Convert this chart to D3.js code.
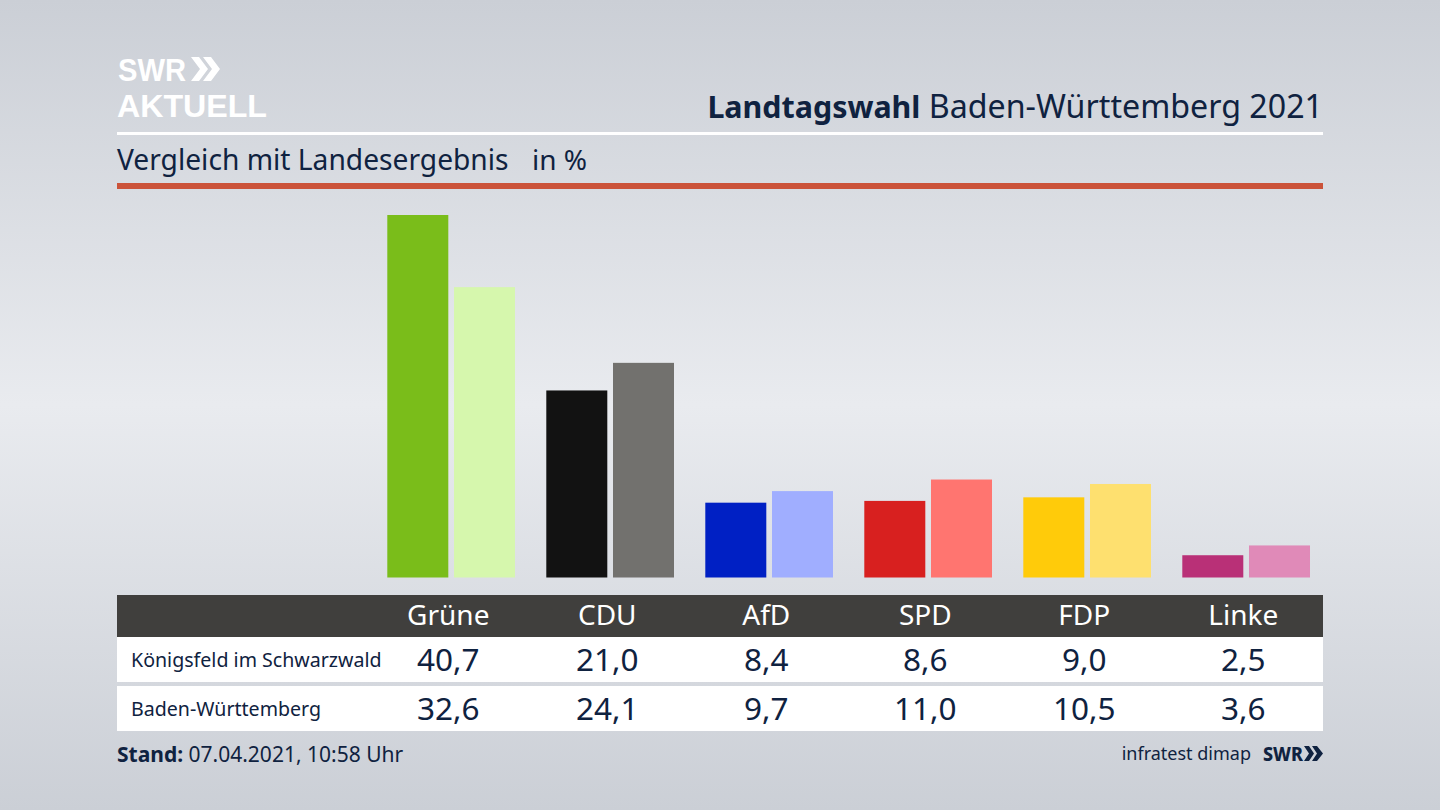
<!DOCTYPE html>
<html lang="de">
<head>
<meta charset="UTF-8">
<title>Landtagswahl Baden-Württemberg 2021</title>
<style>
html, body { margin: 0; padding: 0; }
svg { display: block; font-family: "Noto Sans", sans-serif; }
</style>
</head>
<body>
<div id="chart"></div>
<script src="https://cdnjs.cloudflare.com/ajax/libs/d3/7.8.2/d3.min.js"></script>
<script>
var parties = ["Grüne", "CDU", "AfD", "SPD", "FDP", "Linke"];
var gemeinde = [40.7, 21.0, 8.4, 8.6, 9.0, 2.5];
var land = [32.6, 24.1, 9.7, 11.0, 10.5, 3.6];
var gemeindeName = "Königsfeld im Schwarzwald";
var landName = "Baden-Württemberg";
var darkColors = ["#7abd1a", "#121212", "#0020c4", "#d8201f", "#ffcb0a", "#b93077"];
var lightColors = ["#d6f7ad", "#72716e", "#a0aeff", "#ff7570", "#fee06f", "#e08ab8"];

var width = 1440, height = 810;
var navy = "#0f2240";
var fmt = function(v) { return v.toFixed(1).replace(".", ","); };

var svg = d3.select("#chart").append("svg")
  .attr("width", width)
  .attr("height", height);

// background
var grad = svg.append("defs").append("linearGradient")
  .attr("id", "bg").attr("x1", 0).attr("y1", 0).attr("x2", 0).attr("y2", 1);
grad.append("stop").attr("offset", "0%").attr("stop-color", "#cbcfd6");
grad.append("stop").attr("offset", "50%").attr("stop-color", "#e9ebef");
grad.append("stop").attr("offset", "100%").attr("stop-color", "#cbcfd6");
svg.append("rect").attr("width", width).attr("height", height).attr("fill", "url(#bg)");

// header, logo in Liberation Sans because its line box is tighter
svg.append("text").attr("x", 118).attr("y", 80.5)
  .attr("font-family", "Liberation Sans").attr("font-size", 31)
  .attr("font-weight", 700).attr("fill", "#fff")
  .attr("textLength", 68).attr("lengthAdjust", "spacingAndGlyphs").text("SWR");
svg.append("text").attr("x", 117).attr("y", 116.5)
  .attr("font-family", "Liberation Sans").attr("font-size", 32)
  .attr("font-weight", 700).attr("fill", "#fff")
  .attr("textLength", 150).attr("lengthAdjust", "spacingAndGlyphs").text("AKTUELL");
svg.append("path")
  .attr("d", "M191 57h8l9 12-9 12h-8l9-12zM203 57h8l9 12-9 12h-8l9-12z")
  .attr("fill", "#fff");

var title = svg.append("text").attr("x", 1323).attr("y", 118)
  .attr("text-anchor", "end").attr("font-size", 32.2).attr("fill", navy);
title.append("tspan").attr("font-weight", 700).attr("font-size", 30.4).text("Landtagswahl");
title.append("tspan").text(" Baden-Württemberg 2021");

svg.append("rect").attr("x", 117).attr("y", 132).attr("width", 1206).attr("height", 3).attr("fill", "#fff");
svg.append("text").attr("x", 117).attr("y", 170)
  .attr("font-size", 28.2).attr("fill", navy).text("Vergleich mit Landesergebnis");
svg.append("text").attr("x", 532).attr("y", 170)
  .attr("font-size", 28).attr("fill", navy).text("in %");
svg.append("rect").attr("x", 117).attr("y", 183).attr("width", 1206).attr("height", 6).attr("fill", "#cb533a");

// scales
var x = d3.scalePoint().domain(parties).range([448.3, 1243.3]);
var y = d3.scaleLinear().domain([0, 40.7]).range([577.5, 215]);
var barW = 61, gap = 5.7;

var groups = svg.selectAll(".party")
  .data(parties)
  .enter()
  .append("g")
  .attr("class", "party")
  .attr("transform", function(d) { return "translate(" + x(d) + ",0)"; });

groups.append("rect")
  .attr("x", -barW)
  .attr("width", barW)
  .attr("y", function(d, i) { return y(gemeinde[i]); })
  .attr("height", function(d, i) { return y(0) - y(gemeinde[i]); })
  .attr("fill", function(d, i) { return darkColors[i]; });

groups.append("rect")
  .attr("x", gap)
  .attr("width", barW)
  .attr("y", function(d, i) { return y(land[i]); })
  .attr("height", function(d, i) { return y(0) - y(land[i]); })
  .attr("fill", function(d, i) { return lightColors[i]; });

// table
svg.append("rect").attr("x", 117).attr("y", 595).attr("width", 1206).attr("height", 42).attr("fill", "#403f3d");
svg.append("rect").attr("x", 117).attr("y", 637).attr("width", 1206).attr("height", 45).attr("fill", "#fff");
svg.append("rect").attr("x", 117).attr("y", 686).attr("width", 1206).attr("height", 45).attr("fill", "#fff");

svg.selectAll(".head")
  .data(parties)
  .enter()
  .append("text")
  .attr("class", "head")
  .attr("x", function(d) { return x(d); })
  .attr("y", 625)
  .attr("text-anchor", "middle")
  .attr("font-size", 28)
  .attr("fill", "#fff")
  .text(function(d) { return d; });

function row(name, values, baseline) {
  svg.append("text").attr("x", 131).attr("y", baseline - 4)
    .attr("font-size", 19.6).attr("fill", navy).text(name);
  svg.selectAll(".val-" + baseline)
    .data(values)
    .enter()
    .append("text")
    .attr("class", "val-" + baseline)
    .attr("x", function(d, i) { return x(parties[i]); })
    .attr("y", baseline)
    .attr("text-anchor", "middle")
    .attr("font-size", 31.5)
    .attr("fill", navy)
    .text(fmt);
}
row(gemeindeName, gemeinde, 671);
row(landName, land, 720);

// footer
var stand = svg.append("text").attr("x", 117).attr("y", 762)
  .attr("font-size", 21).attr("fill", navy);
stand.append("tspan").attr("font-weight", 700).text("Stand:");
stand.append("tspan").text(" 07.04.2021, 10:58 Uhr");

svg.append("text").attr("x", 1251).attr("y", 760)
  .attr("text-anchor", "end").attr("font-size", 18).attr("fill", navy).text("infratest dimap");
svg.append("text").attr("x", 1263).attr("y", 761)
  .attr("font-size", 20).attr("font-weight", 800).attr("fill", navy)
  .attr("textLength", 40).attr("lengthAdjust", "spacingAndGlyphs").text("SWR");
svg.append("path")
  .attr("d", "M1304 746h5l5 7.500-5 7.500h-5l5-7.500zM1312 746h5l6 7.500-6 7.500h-5l5-7.500z")
  .attr("fill", navy);
</script>
</body>
</html>
